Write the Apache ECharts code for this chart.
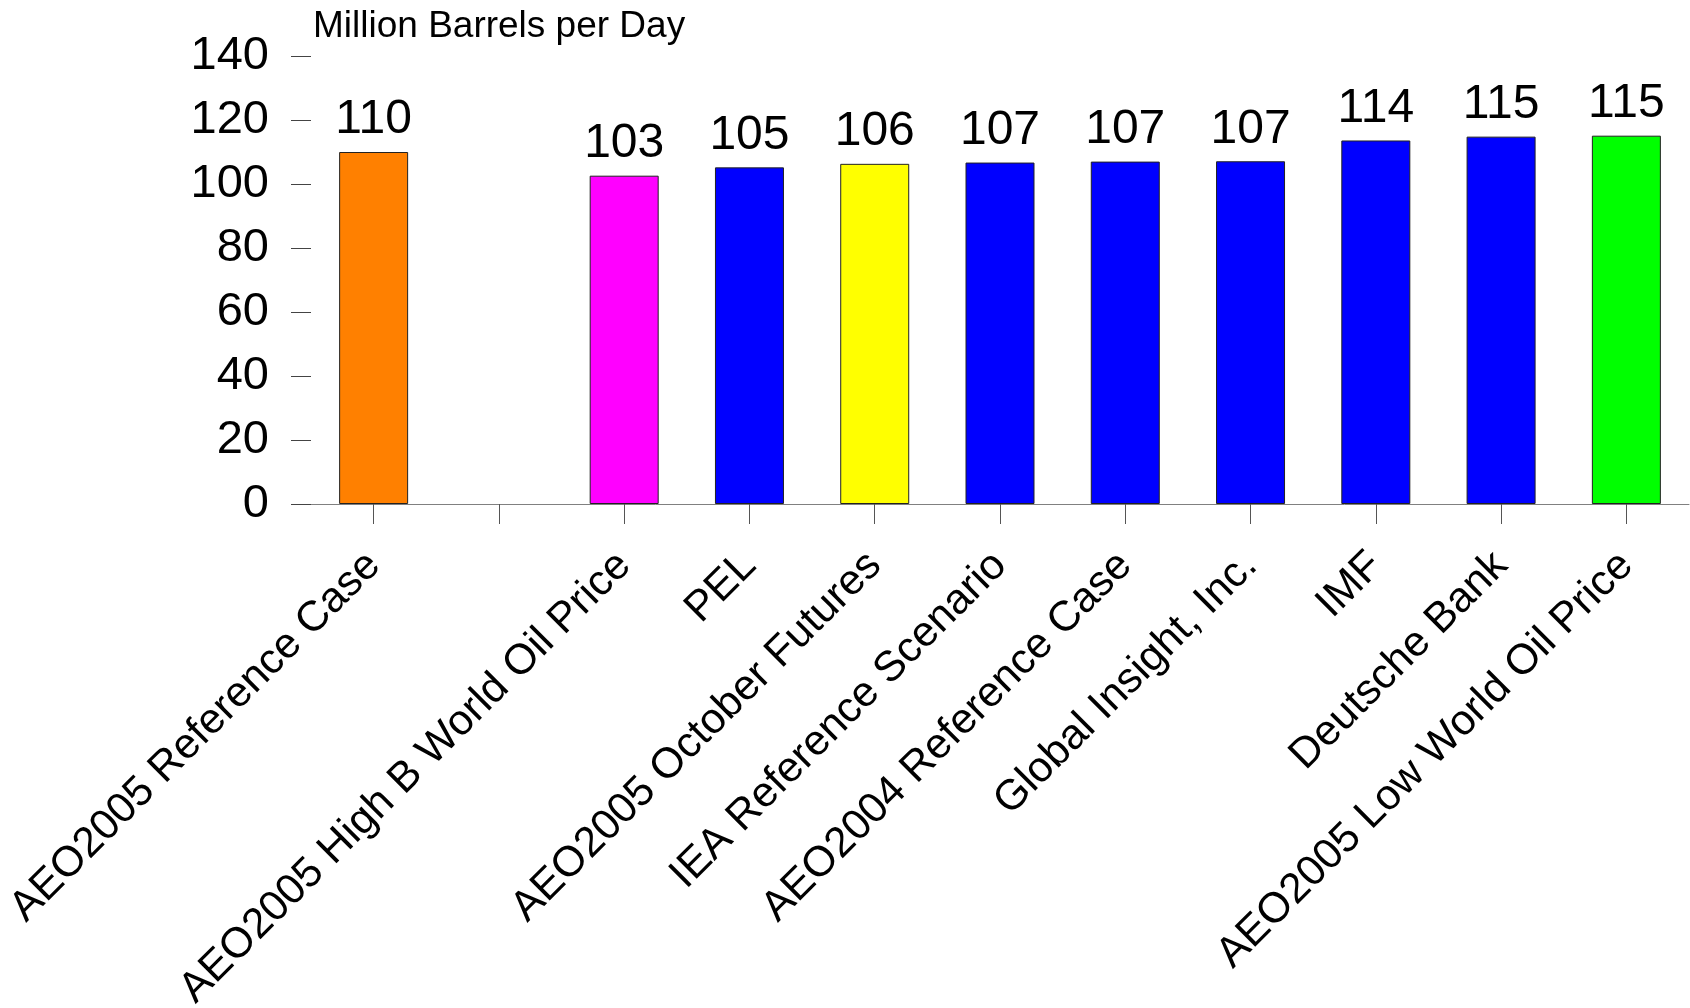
<!DOCTYPE html>
<html>
<head>
<meta charset="utf-8">
<script src="https://cdn.jsdelivr.net/npm/echarts@6/dist/echarts.min.js"></script>
<style>
html,body{margin:0;padding:0;background:#fff;overflow:hidden;}
#chart{width:1690px;height:1008px;}
</style>
</head>
<body>
<div id="chart"></div>
<script>
const categories = [
  'AEO2005 Reference Case',
  '',
  'AEO2005 High B World Oil Price',
  'PEL',
  'AEO2005 October Futures',
  'IEA Reference Scenario',
  'AEO2004 Reference Case',
  'Global Insight, Inc.',
  'IMF',
  'Deutsche Bank',
  'AEO2005 Low World Oil Price'
];
const values = [110, null, 102.6, 105.2, 106.3, 106.7, 107.0, 107.1, 113.6, 114.8, 115.1];
const barColors = ['#FF8000', '#FFFFFF', '#FF00FF', '#0000FF', '#FFFF00', '#0000FF', '#0000FF', '#0000FF', '#0000FF', '#0000FF', '#00FF00'];
const yTicks = [0, 20, 40, 60, 80, 100, 120, 140];
const unitTitle = 'Million Barrels per Day';

const FONT = '"Liberation Sans", Arial, Helvetica, sans-serif';
const chart = echarts.init(document.getElementById('chart'), null, {renderer: 'canvas'});
chart.setOption({
  animation: false,
  backgroundColor: '#ffffff',
  title: {
    text: unitTitle,
    left: 308,
    top: 3,
    textStyle: {fontFamily: FONT, fontSize: 37, fontWeight: 'normal', color: '#000'}
  },
  grid: {left: 311, right: 1, top: 56, bottom: 504, containLabel: false, outerBoundsMode: 'none'},
  xAxis: {
    type: 'category',
    data: categories,
    axisLine: {show: true, lineStyle: {color: '#808080', width: 1}},
    axisTick: {show: true, alignWithLabel: true, length: 20, lineStyle: {color: '#555', width: 1}},
    axisLabel: {
      interval: 0,
      rotate: 45,
      margin: 55,
      fontFamily: FONT,
      fontSize: 42.5,
      color: '#000'
    },
    splitLine: {show: false}
  },
  yAxis: {
    type: 'value',
    min: yTicks[0],
    max: yTicks[yTicks.length - 1],
    interval: 20,
    axisLine: {show: false},
    axisTick: {show: true, inside: false, length: 20, lineStyle: {color: '#444', width: 1}},
    axisLabel: {margin: 42, fontFamily: FONT, fontSize: 47, color: '#000', padding: [6, 0, 0, 0]},
    splitLine: {show: false}
  },
  series: [{
    type: 'bar',
    barWidth: 69,
    data: values.map((v, i) => ({
      value: v,
      itemStyle: {color: barColors[i], borderColor: '#222', borderWidth: 1}
    })),
    label: {
      show: true,
      position: 'top',
      distance: 8,
      fontFamily: FONT,
      fontSize: 48,
      color: '#000',
      formatter: p => (p.value == null ? '' : String(Math.round(p.value)))
    }
  }]
});
</script>
</body>
</html>
